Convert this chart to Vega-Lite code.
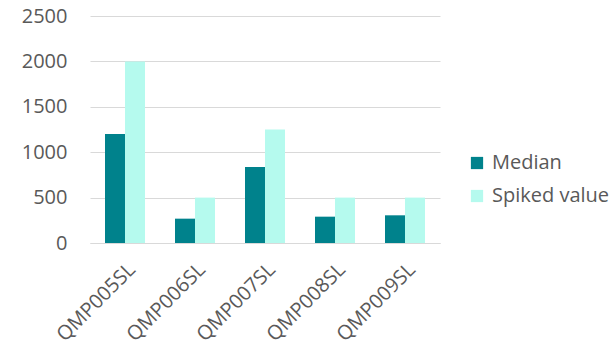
{
  "$schema": "https://vega.github.io/schema/vega-lite/v6.json",
  "autosize": "none",
  "padding": {"left": 90, "top": 16, "right": 173, "bottom": 108},
  "width": 350,
  "height": 227,
  "background": "white",
  "data": {"values": [
    {"sample": "QMP005SL", "series": "Median", "value": 1200},
    {"sample": "QMP005SL", "series": "Spiked value", "value": 2000},
    {"sample": "QMP006SL", "series": "Median", "value": 268},
    {"sample": "QMP006SL", "series": "Spiked value", "value": 500},
    {"sample": "QMP007SL", "series": "Median", "value": 838},
    {"sample": "QMP007SL", "series": "Spiked value", "value": 1250},
    {"sample": "QMP008SL", "series": "Median", "value": 290},
    {"sample": "QMP008SL", "series": "Spiked value", "value": 500},
    {"sample": "QMP009SL", "series": "Median", "value": 305},
    {"sample": "QMP009SL", "series": "Spiked value", "value": 500}
  ]},
  "config": {
    "view": {"stroke": null},
    "font": "Open Sans"
  },
  "mark": {"type": "bar"},
  "encoding": {
    "x": {
      "field": "sample", "type": "nominal",
      "scale": {"paddingInner": 0.4286, "paddingOuter": 0.2143},
      "axis": {
        "title": null, "labelAngle": -45, "labelFontSize": 20, "labelColor": "#595959",
        "domainColor": "#d9d9d9", "domainWidth": 1, "ticks": false, "labelPadding": 16,
        "labelFont": "Open Sans"
      }
    },
    "xOffset": {"field": "series", "type": "nominal"},
    "y": {
      "field": "value", "type": "quantitative",
      "scale": {"domain": [0, 2500]},
      "axis": {
        "title": null, "values": [0, 500, 1000, 1500, 2000, 2500], "format": "d",
        "domain": false, "ticks": false, "labelPadding": 23,
        "labelFontSize": 20, "labelColor": "#595959", "gridColor": "#d9d9d9",
        "labelFont": "Open Sans"
      }
    },
    "color": {
      "field": "series", "type": "nominal",
      "scale": {"domain": ["Median", "Spiked value"], "range": ["#00828C", "#B5FAEE"]},
      "legend": {
        "title": null, "orient": "none", "legendX": 377, "legendY": 137,
        "symbolType": "square", "symbolSize": 150, "symbolStrokeWidth": 0,
        "labelFontSize": 20, "labelColor": "#595959", "rowPadding": 13,
        "labelFont": "Open Sans", "labelOffset": 5
      }
    }
  }
}
